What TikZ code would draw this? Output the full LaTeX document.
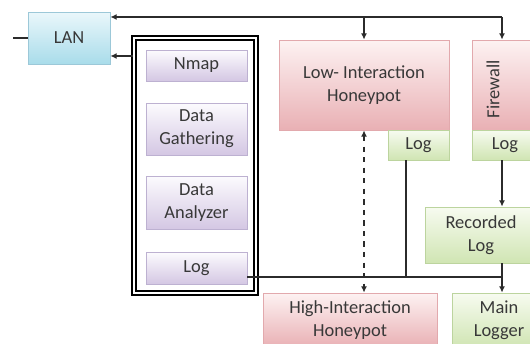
\documentclass[tikz,border=0pt]{standalone}
\usepackage{fontspec}
\setmainfont{Carlito}
\usepackage{tikz}
\usetikzlibrary{arrows.meta, calc}
\definecolor{lanborder}{HTML}{9CC8D8}
\definecolor{lantop}{HTML}{EAF7FB}
\definecolor{lanbot}{HTML}{A9DCEA}
\definecolor{purpborder}{HTML}{BDB1D1}
\definecolor{purptop}{HTML}{FCFBFE}
\definecolor{purpbot}{HTML}{D4C7E3}
\definecolor{pinkborder}{HTML}{E2A9AD}
\definecolor{pinktop}{HTML}{FDF2F2}
\definecolor{pinkbot}{HTML}{E9B0B4}
\definecolor{grnborder}{HTML}{BCD49E}
\definecolor{grntop}{HTML}{F7FBF0}
\definecolor{grnbot}{HTML}{D0E5B3}
\definecolor{inkgray}{HTML}{383838}
\definecolor{wire}{HTML}{2B2B2B}

\begin{document}
\begin{tikzpicture}[x=0.02cm, y=-0.02cm]
  \tikzstyle{box}=[draw, inner sep=0pt, align=center, text=inkgray,
    font=\fontsize{10.5}{13}\selectfont]
  \tikzstyle{lanbox}=[box, draw=lanborder, top color=lantop, bottom color=lanbot]
  \tikzstyle{toolbox}=[box, draw=purpborder, top color=purptop, bottom color=purpbot,
    minimum width=2.02cm]
  \tikzstyle{pinkbox}=[box, draw=pinkborder, top color=pinktop, bottom color=pinkbot]
  \tikzstyle{grnbox}=[box, draw=grnborder, top color=grntop, bottom color=grnbot]
  \tikzstyle{wire}=[draw=wire, line width=0.8pt]
  \tikzstyle{arr}=[wire, -{Latex[length=3.6pt,width=3.4pt]}]

  \clip (0,0) rectangle (530,344);

  % network side
  \node[lanbox, minimum width=1.64cm, minimum height=1.04cm] (lan) at (69,38) {LAN};
  \coordinate (lanin) at (13,38);

  % tool column
  \node[draw=black, line width=1.2pt, double=white, double distance=0.7pt,
    minimum width=2.44cm, minimum height=5.1cm] (tools) at (195,165.5) {};
  \node[toolbox, minimum height=0.62cm] (nmap) at (196.5,65.5) {Nmap};
  \node[toolbox, minimum height=1.04cm] (gather) at (196.5,129) {Data\\Gathering};
  \node[toolbox, minimum height=1.06cm] (analyzer) at (196.5,202.5) {Data\\Analyzer};
  \node[toolbox, minimum height=0.64cm] (toollog) at (196.5,268) {Log};

  % honeypots and firewall
  \node[pinkbox, minimum width=3.4cm, minimum height=1.8cm] (lih) at (364,85)
    {Low- Interaction\\Honeypot};
  \node[grnbox, minimum width=1.22cm, minimum height=0.6cm] (lihlog) at (418.5,145) {Log};
  \node[pinkbox, minimum width=1.32cm, minimum height=1.8cm] (fw) at (505,85) {};
  \node[text=inkgray, font=\fontsize{10.5}{13}\selectfont, rotate=90] (fwtext) at (493,89) {Firewall};
  \node[grnbox, minimum width=1.32cm, minimum height=0.6cm] (fwlog) at (505,145) {Log};
  \node[grnbox, minimum width=2.24cm, minimum height=1.12cm] (reclog) at (481,235) {Recorded\\Log};
  \node[pinkbox, minimum width=3.48cm, minimum height=1.08cm] (hih) at (350,320)
    {High-Interaction\\Honeypot};
  \node[grnbox, minimum width=1.88cm, minimum height=1.08cm] (mainlog) at (499,320)
    {Main\\Logger};

  \coordinate (bus) at (502,17);
  \coordinate (toolout) at (133,56);
  \coordinate (logbus) at (502,277);

  % connectors
  \draw[wire] (lanin) -- (lan.west);
  \draw[arr] (bus) -- (bus -| lan.east);
  \draw[arr] (bus) -- (bus |- fw.north);
  \draw[arr] (bus -| lih.north) -- (lih.north);
  \draw[arr] (toolout) -- (toolout -| lan.east);
  \draw[wire, dashed, {Latex[length=3.6pt,width=3.4pt]}-{Latex[length=3.6pt,width=3.4pt]}]
    (lih.south) -- (lih.south |- hih.north);
  \draw[wire] ([xshift=-0.25cm]lihlog.south) -- ([xshift=-0.25cm]lihlog.south |- logbus);
  \draw[wire] (toollog.east |- logbus) -- (logbus);
  \draw[arr] (fwlog.south -| bus) -- (reclog.north -| bus);
  \draw[wire] (reclog.south -| bus) -- (logbus);
  \draw[arr] (logbus) -- (logbus |- mainlog.north);
\end{tikzpicture}
\end{document}
